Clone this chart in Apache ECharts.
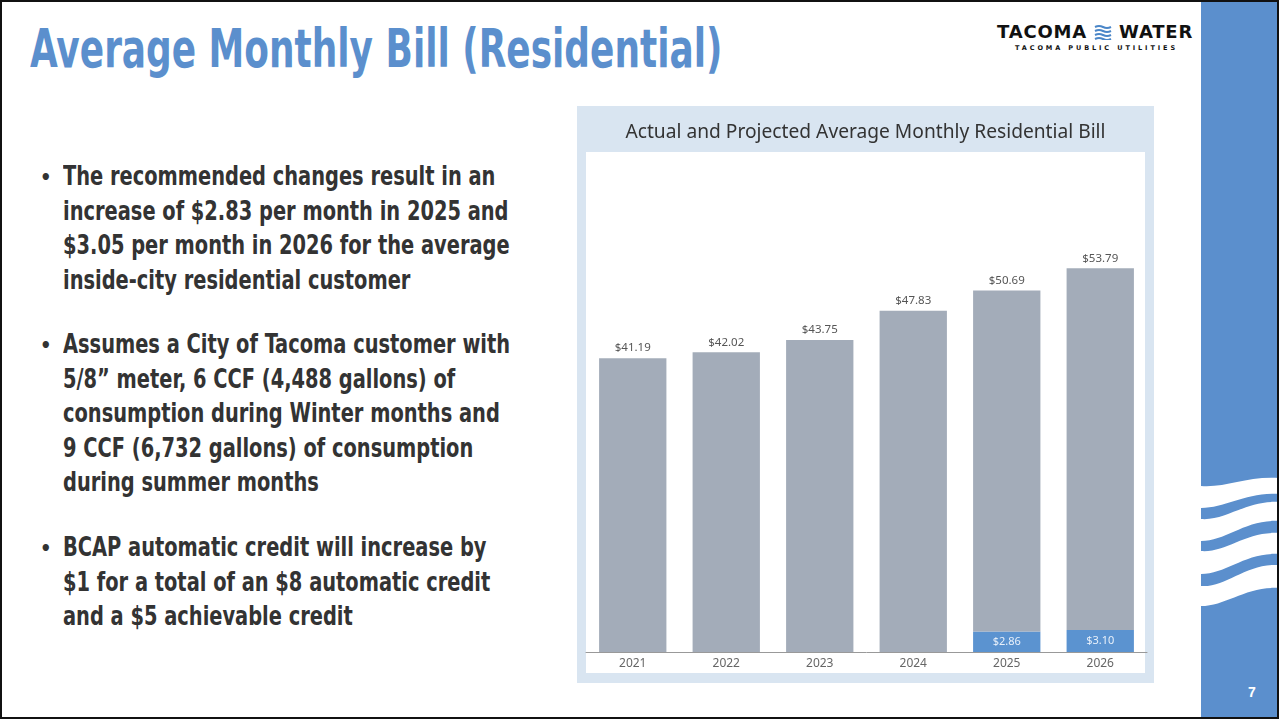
<!DOCTYPE html>
<html>
<head>
<meta charset="utf-8">
<script src="https://cdn.jsdelivr.net/npm/echarts@6/dist/echarts.min.js"></script>
<style>
  html, body { margin:0; padding:0; }
  body { width:1279px; height:719px; position:relative; overflow:hidden; background:#fff; }
  #frame { position:absolute; left:0; top:0; width:1275px; height:715px; border:2px solid #111; }
  #sidebar { position:absolute; left:1201px; top:0; width:78px; height:719px; background:#5B8FCD; }
  #title { position:absolute; left:30px; top:18px; font-family:"DejaVu Sans Condensed","DejaVu Sans",sans-serif; font-weight:bold; font-size:53px; color:#5B8FCD; white-space:nowrap; transform-origin:0 0; transform:scaleX(0.753); }
  .bullets { position:absolute; left:40px; font-family:"DejaVu Sans Condensed","DejaVu Sans",sans-serif; font-weight:bold; font-size:26px; color:#333; line-height:34.6px; }
  .bullets .dot { position:absolute; left:0; top:0; font-size:20px; }
  .bullets .txt { position:absolute; left:23px; top:0; white-space:nowrap; transform-origin:0 0; transform:scaleX(0.83); }
  #logo { position:absolute; left:990px; top:10px; width:211px; height:40px; background:#fff; }
  #logo .main { position:absolute; left:7px; top:11px; font-family:"DejaVu Sans","Liberation Sans",sans-serif; font-weight:bold; font-size:18px; color:#111; white-space:nowrap; letter-spacing:0.8px; }
  #logo .sub { position:absolute; left:25px; top:34px; font-family:"DejaVu Sans",sans-serif; font-weight:bold; font-size:6.5px; color:#111; letter-spacing:2.9px; white-space:nowrap; }
  #pagenum { position:absolute; left:1248px; top:684px; font-family:"Liberation Sans",sans-serif; font-weight:bold; font-size:14px; color:#fff; }
  #chart { position:absolute; left:577px; top:106px; width:577px; height:577px; }
</style>
</head>
<body>
<div id="sidebar">
  <svg width="78" height="719" style="position:absolute;left:0;top:0">
    <path d="M0,486 C25,488 45,476 78,478 L78,494 C45,492 25,508 0,508 Z" fill="#fff"/>
    <path d="M0,519 C25,521 45,500 78,502 L78,521 C45,519 25,541 0,541 Z" fill="#fff"/>
    <path d="M0,551 C25,553 45,531 78,533 L78,554 C45,552 25,574 0,574 Z" fill="#fff"/>
    <path d="M0,586 C25,588 45,563 78,565 L78,588 C45,586 25,606 0,606 Z" fill="#fff"/>
  </svg>
</div>
<div id="frame"></div>
<div id="title">Average Monthly Bill (Residential)</div>
<div class="bullets" style="top:159px"><span class="dot" style="top:1px">•</span><div class="txt">The recommended changes result in an<br>increase of $2.83 per month in 2025 and<br>$3.05 per month in 2026 for the average<br>inside-city residential customer</div></div>
<div class="bullets" style="top:327px"><span class="dot" style="top:1px">•</span><div class="txt">Assumes a City of Tacoma customer with<br>5/8” meter, 6 CCF (4,488 gallons) of<br>consumption during Winter months and<br>9 CCF (6,732 gallons) of consumption<br>during summer months</div></div>
<div class="bullets" style="top:530px"><span class="dot" style="top:1px">•</span><div class="txt">BCAP automatic credit will increase by<br>$1 for a total of an $8 automatic credit<br>and a $5 achievable credit</div></div>
<div id="logo">
  <div class="main">TACOMA <svg width="18" height="16" style="vertical-align:-2px"><path d="M1,3 q4,-2 8,0 t8,0 M1,7 q4,-2 8,0 t8,0 M1,11 q4,-2 8,0 t8,0 M1,15 q4,-2 8,0 t8,0" stroke="#4A86C8" stroke-width="2" fill="none"/></svg> WATER</div>
  <div class="sub">TACOMA PUBLIC UTILITIES</div>
</div>
<div id="pagenum">7</div>
<div id="chart"></div>
<script>
const chartTitle = "Actual and Projected Average Monthly Residential Bill";
const years = ["2021", "2022", "2023", "2024", "2025", "2026"];
const totalBill = [41.19, 42.02, 43.75, 47.83, 50.69, 53.79];
const increase = [null, null, null, null, 2.86, 3.10];

const baseBill = totalBill.map((t, i) => increase[i] == null ? t : +(t - increase[i]).toFixed(2));

const chart = echarts.init(document.getElementById('chart'));
chart.setOption({
  backgroundColor: '#D9E5F1',
  animation: false,
  title: {
    text: chartTitle, left: 'center', top: 12,
    textStyle: { fontFamily: 'Noto Sans', fontWeight: 'normal', fontSize: 19.2, color: '#333' }
  },
  graphic: [{ type: 'rect', z: -1, shape: { x: 9, y: 46, width: 559, height: 521 }, style: { fill: '#fff' } }],
  grid: { left: 9, right: 7, top: 118, bottom: 31 },
  xAxis: {
    type: 'category', data: years,
    axisLine: { lineStyle: { color: '#999', width: 1 } },
    axisTick: { show: false },
    axisLabel: { color: '#666', fontSize: 12, fontFamily: 'Noto Sans', margin: 6 }
  },
  yAxis: { type: 'value', min: 0, max: 60, show: false, splitLine: { show: false } },
  series: [
    {
      name: 'Increase', type: 'bar', stack: 'bill', data: increase, barCategoryGap: '28%',
      itemStyle: { color: '#5B93D0' },
      label: { show: true, position: 'inside', color: '#E8F0FA', fontSize: 11, fontFamily: 'Noto Sans',
        formatter: p => p.value == null ? '' : '$' + p.value.toFixed(2) }
    },
    {
      name: 'Bill', type: 'bar', stack: 'bill', data: baseBill, barCategoryGap: '28%',
      itemStyle: { color: '#A3ACB9' },
      label: { show: true, position: 'top', distance: 4, color: '#555', fontSize: 11.5, fontFamily: 'Noto Sans',
        formatter: p => '$' + totalBill[p.dataIndex].toFixed(2) }
    }
  ]
});
</script>
</body>
</html>
